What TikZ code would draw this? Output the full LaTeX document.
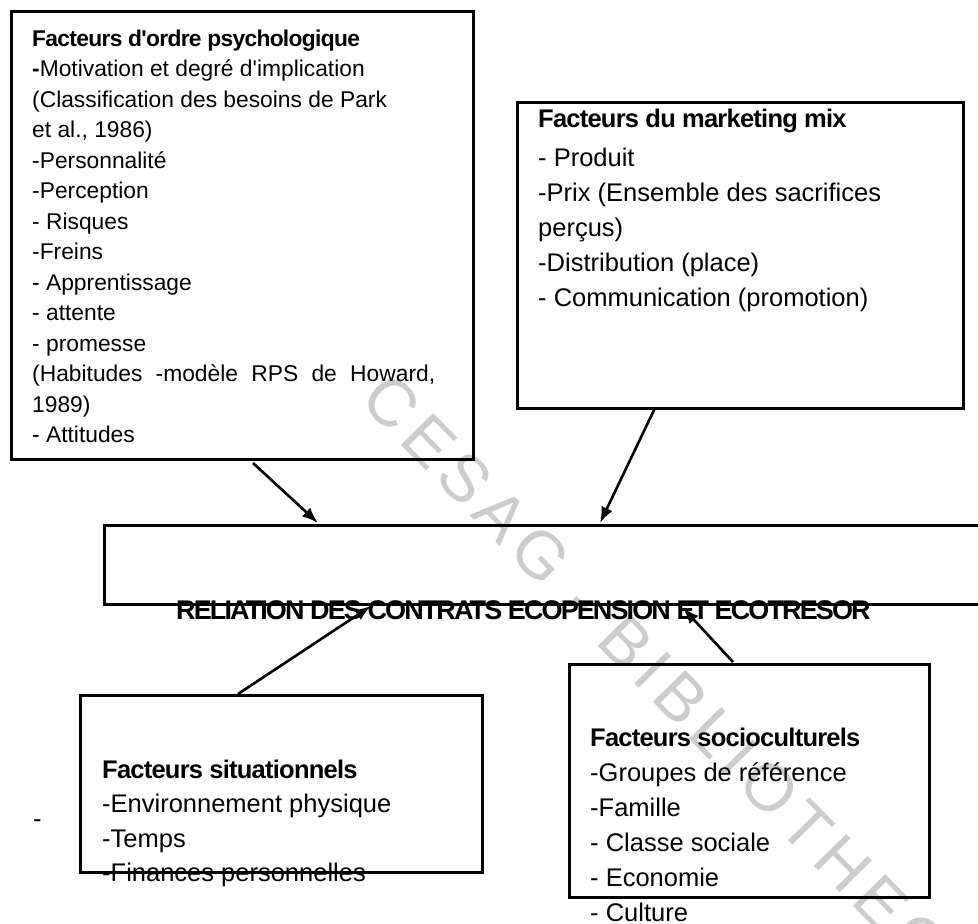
\documentclass[tikz,border=0pt]{standalone}
\usepackage{fontspec}
\setmainfont{Liberation Sans}
\newfontfamily\plainfont{Liberation Sans}
\newfontfamily\titlefont{Liberation Sans}[LetterSpace=-3]
\newfontfamily\centerfont{Liberation Sans}[LetterSpace=-7]
\newfontfamily\wmfont{Liberation Sans}[LetterSpace=12]
\usetikzlibrary{arrows.meta}
\newcommand\fsA{\plainfont\fontsize{22.8pt}{30pt}\selectfont}
\newcommand\fsB{\plainfont\fontsize{25.5pt}{35pt}\selectfont}
\begin{document}
\begin{tikzpicture}[x=1pt,y=-1pt,
  box/.style={draw, line width=2.8pt, inner sep=0pt, anchor=north west},
  ln/.style={anchor=base west, inner sep=0pt},
  arr/.style={line width=2.6pt, -{Latex[length=16pt,width=12pt]}},
  wm/.style={text=black!20, inner sep=0pt, rotate=-45.5, anchor=west,
    font=\wmfont\fontsize{66pt}{66pt}\selectfont}]
\useasboundingbox (0,0) rectangle (978,924);
\clip (0,0) rectangle (978,924);
\fill[white] (0,0) rectangle (978,924);
% watermark
\node[wm] (wmark) at (370,390) {CESAG - BIBLIOTHEQUE};
% boxes
\node[box, minimum width=462pt, minimum height=448pt] (psy) at (10,10) {};
\node[box, minimum width=446pt, minimum height=306pt] (mix) at (516,101) {};
\node[box, minimum width=897pt, minimum height=79pt] (rel) at (103,524) {};
\node[box, minimum width=402pt, minimum height=177pt] (sit) at (79,694) {};
\node[box, minimum width=360pt, minimum height=233pt] (soc) at (568,663) {};
% texts box 1
\node[ln, font=\titlefont\fontsize{22.8pt}{30pt}\selectfont\bfseries] (p0) at (32,46) {Facteurs d'ordre psychologique};
\node[ln, font=\fsA] (p1) at (32,76.5) {\textbf{-}Motivation et degré d'implication};
\node[ln, font=\fsA] (p2) at (32,107) {(Classification des besoins de Park};
\node[ln, font=\fsA] (p3) at (32,137.5) {et al., 1986)};
\node[ln, font=\fsA] (p4) at (32,168) {-Personnalité};
\node[ln, font=\fsA] (p5) at (32,198.5) {-Perception};
\node[ln, font=\fsA] (p6) at (32,229) {- Risques};
\node[ln, font=\fsA] (p7) at (32,259.5) {-Freins};
\node[ln, font=\fsA] (p8) at (32,290) {- Apprentissage};
\node[ln, font=\fsA] (p9) at (32,320.5) {- attente};
\node[ln, font=\fsA] (p10) at (32,351) {- promesse};
\node[ln, font=\fsA] (p11) at (32,381.5) {\makebox[403pt][s]{(Habitudes -modèle RPS de Howard,}};
\node[ln, font=\fsA] (p12) at (32,412) {1989)};
\node[ln, font=\fsA] (p13) at (32,442.5) {- Attitudes};
% texts box 2
\node[ln, font=\titlefont\fontsize{25.5pt}{35pt}\selectfont\bfseries] (m0) at (538,127) {Facteurs du marketing mix};
\node[ln, font=\fsB] (m1) at (538,166) {- Produit};
\node[ln, font=\fsB] (m2) at (538,201) {-Prix (Ensemble des sacrifices};
\node[ln, font=\fsB] (m3) at (538,236.5) {perçus)};
\node[ln, font=\fsB] (m4) at (538,271.5) {-Distribution (place)};
\node[ln, font=\fsB] (m5) at (538,306.5) {- Communication (promotion)};
% central text
\node[ln, font=\centerfont\fontsize{27pt}{30pt}\selectfont\bfseries] (rt) at (176,619) {RELIATION DES CONTRATS ECOPENSION ET ECOTRESOR};
% texts box 3
\node[ln, font=\titlefont\fontsize{25.5pt}{35pt}\selectfont\bfseries] (s0) at (102,778) {Facteurs situationnels};
\node[ln, font=\fsB] (s1) at (102,812.5) {-Environnement physique};
\node[ln, font=\fsB] (s2) at (102,847) {-Temps};
\node[ln, font=\fsB] (s3) at (102,881.5) {-Finances personnelles};
\node[ln, font=\fsB] (dash) at (33,827) {-};
% texts box 4
\node[ln, font=\titlefont\fontsize{25.5pt}{35pt}\selectfont\bfseries] (c0) at (590,746) {Facteurs socioculturels};
\node[ln, font=\fsB] (c1) at (590,781) {-Groupes de référence};
\node[ln, font=\fsB] (c2) at (590,816) {-Famille};
\node[ln, font=\fsB] (c3) at (590,851.5) {- Classe sociale};
\node[ln, font=\fsB] (c4) at (590,886.5) {- Economie};
\node[ln, font=\fsB] (c5) at (590,921.5) {- Culture};
% connector end points
\coordinate (a1s) at (253,463);
\coordinate (a1e) at (318,523);
\coordinate (a2s) at (655,408);
\coordinate (a2e) at (600,523);
\coordinate (a3s) at (238,694);
\coordinate (a3e) at (371,606);
\coordinate (a4s) at (733,662);
\coordinate (a4e) at (683,608);
\draw[arr] (a1s) -- (a1e);
\draw[arr] (a2s) -- (a2e);
\draw[arr] (a3s) -- (a3e);
\draw[arr] (a4s) -- (a4e);
\end{tikzpicture}
\end{document}
